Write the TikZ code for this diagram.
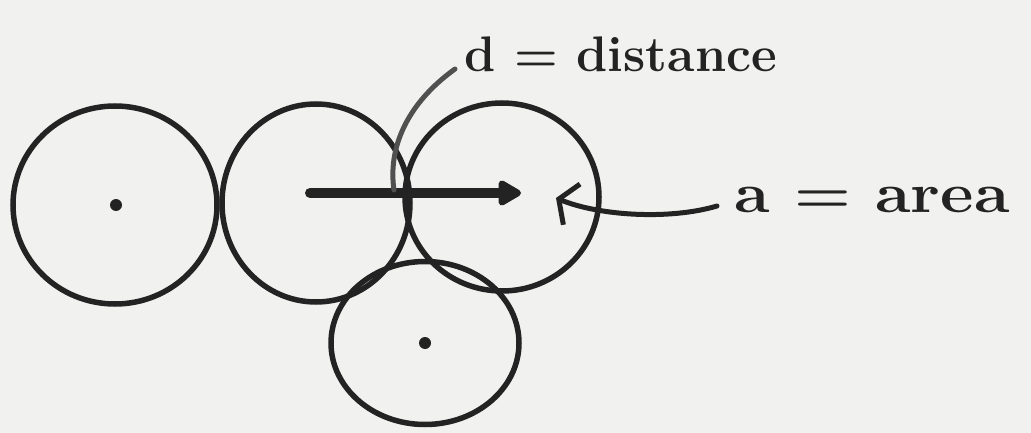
\documentclass[tikz,border=0pt]{standalone}
\usetikzlibrary{shapes.geometric,arrows.meta}
\definecolor{paper}{RGB}{241,241,239}
\definecolor{ink}{RGB}{35,35,35}
\definecolor{inklight}{RGB}{80,80,80}
\tikzset{
  ring/.style={ellipse, draw=ink, line width=5.5pt, inner sep=0pt},
  centerdot/.style={circle, fill=ink, inner sep=0pt, minimum size=12pt},
  label/.style={text=ink, font=\bfseries\fontsize{50}{56}\selectfont, inner sep=0pt},
  leader/.style={draw=ink, line width=5pt, line cap=round},
}
\begin{document}
\begin{tikzpicture}[x=1pt,y=-1pt]
\fill[paper] (0,0) rectangle (1031,433);
\useasboundingbox (0,0) rectangle (1031,433);
% circles
\node[ring, minimum width=204pt, minimum height=198pt] (c1) at (115,205) {};
\node[ring, minimum width=188pt, minimum height=198pt] (c2) at (316,203) {};
\node[ring, minimum width=194pt, minimum height=188pt] (c3) at (502,197) {};
\node[ring, minimum width=188pt, minimum height=163pt] (c4) at (425,343) {};
\node[centerdot] (p1) at (116,205) {};
\node[centerdot] (p4) at (425,343) {};
% distance arrow
\coordinate (ds) at (310,193);
\coordinate (de) at (521,193);
\draw[draw=ink, line width=10pt, line cap=round, -{Triangle[round, length=26pt, width=28pt]}] (ds) -- (de);
% labels
\node[label, anchor=base west] (dl) at (464,72) {d = distance};
\node[label, anchor=base west, xscale=1.16, font=\bfseries\fontsize{56}{62}\selectfont] (al) at (734,212) {a = area};
% leaders
\coordinate (dlend) at (455,69);
\coordinate (dtip) at (394,190);
\draw[leader, draw=inklight] (dlend) .. controls (405,105) and (388,150) .. (dtip);
\coordinate (alend) at (717,206);
\coordinate (atip) at (556,198);
\draw[leader, -{Straight Barb[length=14pt, width=44pt]}] (alend) .. controls (670,220) and (600,216) .. (atip);
\end{tikzpicture}
\end{document}
